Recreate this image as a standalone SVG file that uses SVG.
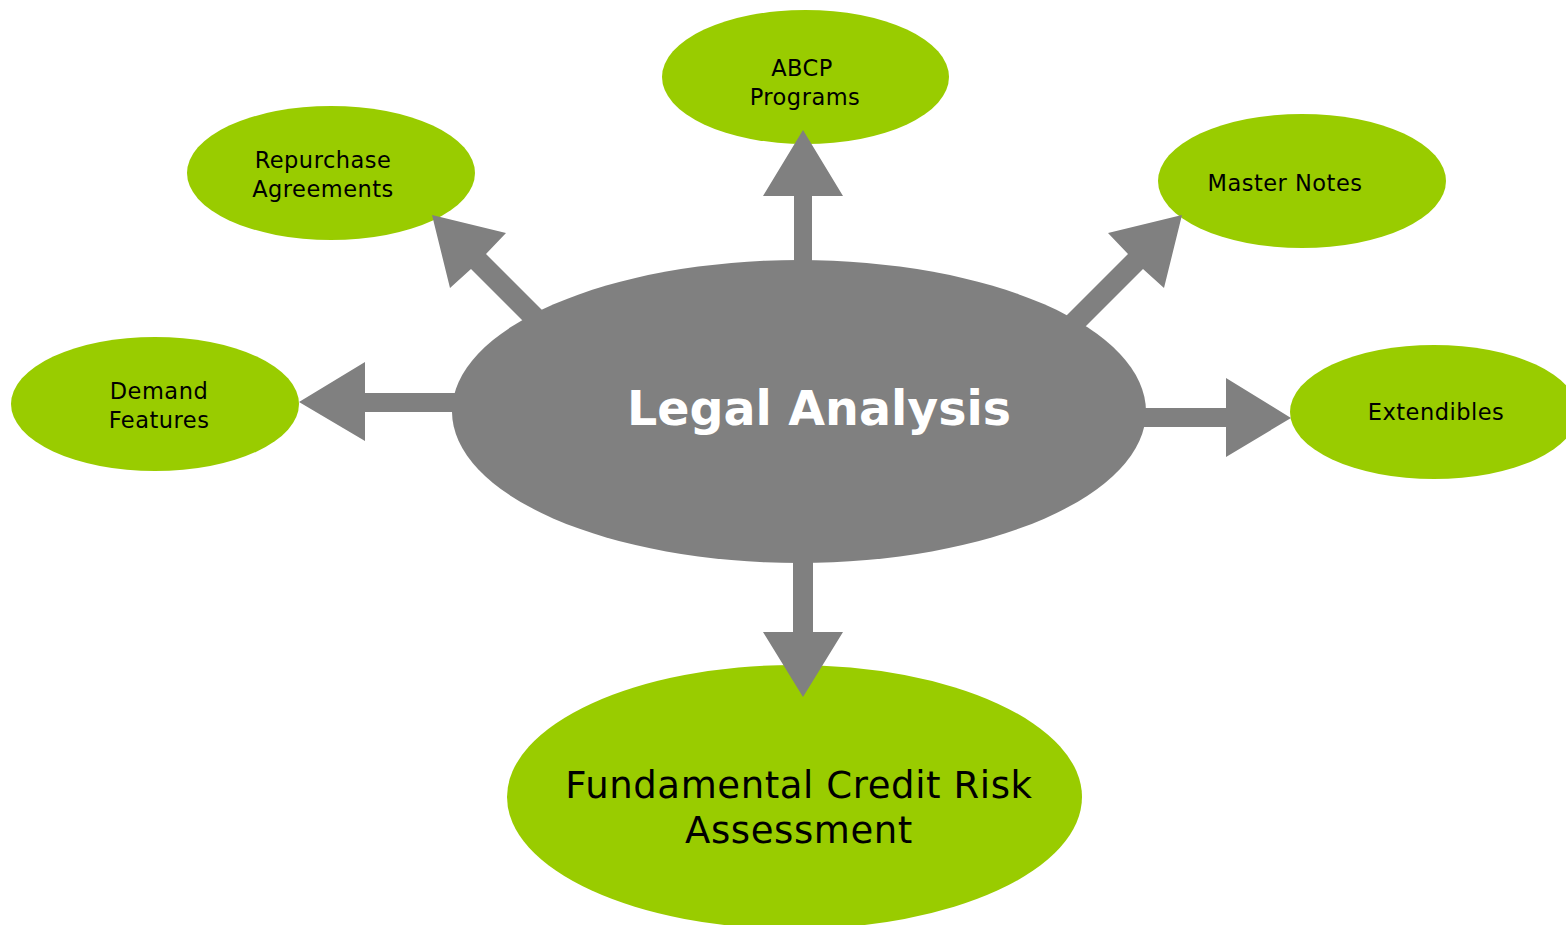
<svg xmlns="http://www.w3.org/2000/svg" width="1566" height="925" viewBox="0 0 1566 925">
<style>
.leaf{fill:#99CC00}
.hub{fill:#808080}
.arrow{fill:#808080}
.t{font-family:"DejaVu Sans","Liberation Sans",sans-serif;fill:#000;text-anchor:middle;font-size:22.5px;letter-spacing:0.5px}
.big{font-size:37px;letter-spacing:0.6px}
.hubt{font-family:"DejaVu Sans","Liberation Sans",sans-serif;fill:#fff;text-anchor:middle;font-size:47.5px;font-weight:bold}
</style>
<rect width="1566" height="925" fill="#fff"/>
<g id="hub"><ellipse class="hub" cx="799" cy="411.5" rx="347" ry="151.5"/><text class="hubt" x="819" y="425">Legal Analysis</text></g>
<g id="abcp"><ellipse class="leaf" cx="805.5" cy="77" rx="143.5" ry="67"/><text class="t" x="802" y="76">ABCP</text><text class="t" x="805" y="105">Programs</text></g>
<g id="repo"><ellipse class="leaf" cx="331" cy="173" rx="144" ry="67"/><text class="t" x="323" y="168">Repurchase</text><text class="t" x="323" y="197">Agreements</text></g>
<g id="master"><ellipse class="leaf" cx="1302" cy="181" rx="144" ry="67"/><text class="t" x="1285" y="191">Master Notes</text></g>
<g id="demand"><ellipse class="leaf" cx="155" cy="404" rx="144" ry="67"/><text class="t" x="159" y="399">Demand</text><text class="t" x="159" y="428">Features</text></g>
<g id="ext"><ellipse class="leaf" cx="1434" cy="412" rx="144" ry="67"/><text class="t" x="1436" y="420">Extendibles</text></g>
<g id="fund"><ellipse class="leaf" cx="794.5" cy="797" rx="287.5" ry="132"/><text class="t big" x="799" y="798">Fundamental Credit Risk</text><text class="t big" x="799" y="843">Assessment</text></g>
<g id="connectors">
<polygon class="arrow" points="794,270 794,196 763,196 803,130 843,196 812,196 812,270"/>
<polygon class="arrow" points="793,550 793,632 763,632 803,697 843,632 813,632 813,550"/>
<polygon class="arrow" points="1130,408 1226,408 1226,378 1291,418 1226,457 1226,427 1130,427"/>
<polygon class="arrow" points="470,393 365,393 365,362 299,402 365,441 365,412 470,412"/>
<polygon class="arrow" points="548,316 486,254 506,233 432,215 450,288 471,269 533,331"/>
<polygon class="arrow" points="1060,322 1128,254 1108,233 1182,215 1164,288 1143,269 1078,334"/>
</g>
</svg>
